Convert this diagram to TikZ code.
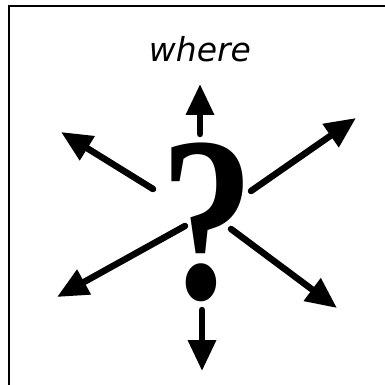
\documentclass[tikz,border=0pt]{standalone}
\usepackage{fontspec}
\usetikzlibrary{arrows.meta}
\newfontfamily\qfont{Liberation Serif}
\newfontfamily\wfont{DejaVu Sans}
\tikzset{
  ray/.style={line width=6.5pt, line cap=round, -{Triangle[length=31pt,width=27pt]}},
  frameline/.style={line width=2.5pt}
}
\begin{document}
\begin{tikzpicture}[x=1pt,y=-1pt]
\useasboundingbox (0,0) rectangle (385,385);
\fill[white] (0,0) rectangle (385,385);
\draw[frameline] (9,385) -- (9,6) -- (385,6);
\node (title) at (200,49) {\wfont\itshape\fontsize{33}{33}\selectfont where};
\node[inner sep=0pt, xscale=0.8] (q) at (207,222) {\qfont\bfseries\fontsize{235}{235}\selectfont ?};
\coordinate (cu) at (200,134);
\coordinate (tu) at (200,84);
\coordinate (cul) at (153,189);
\coordinate (tul) at (61,132);
\coordinate (cur) at (251,191);
\coordinate (tur) at (356,118);
\coordinate (cll) at (185,226);
\coordinate (tll) at (57,297);
\coordinate (clr) at (231,229);
\coordinate (tlr) at (337,308);
\coordinate (cd) at (202,310);
\coordinate (td) at (202,371);
\draw[ray] (cu) -- (tu);
\draw[ray] (cul) -- (tul);
\draw[ray] (cur) -- (tur);
\draw[ray] (cll) -- (tll);
\draw[ray] (clr) -- (tlr);
\draw[ray] (cd) -- (td);
\end{tikzpicture}
\end{document}
